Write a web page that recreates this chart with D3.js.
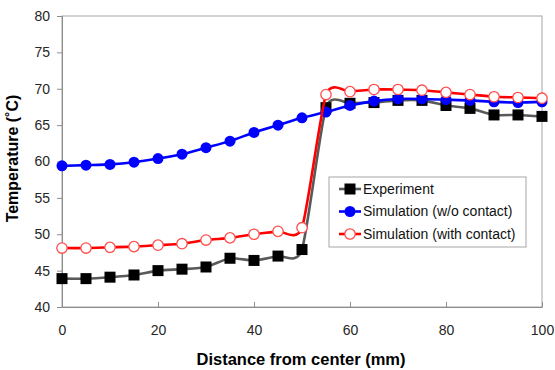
<!DOCTYPE html>
<html>
<head>
<meta charset="utf-8">
<script src="https://cdn.jsdelivr.net/npm/d3@7"></script>
<style>
  body { margin: 0; background: #fff; }
  text { font-family: "Liberation Sans", Arial, sans-serif; }
</style>
</head>
<body>
<div id="chart"></div>
<script>
const distance = [0, 5, 10, 15, 20, 25, 30, 35, 40, 45, 50, 55, 60, 65, 70, 75, 80, 85, 90, 95, 100]
const experiment = [43.9, 43.9, 44.1, 44.4, 45.0, 45.2, 45.5, 46.7, 46.4, 47.0, 47.9, 67.4, 68.0, 68.1, 68.4, 68.4, 67.7, 67.3, 66.4, 66.4, 66.2]
const simNoContact = [59.4, 59.5, 59.6, 59.9, 60.4, 61.0, 61.9, 62.8, 64.0, 65.0, 66.0, 66.8, 67.7, 68.3, 68.6, 68.6, 68.5, 68.4, 68.2, 68.1, 68.2]
const simContact = [48.1, 48.1, 48.2, 48.3, 48.5, 48.7, 49.2, 49.5, 50.0, 50.4, 50.9, 69.2, 69.6, 69.9, 69.9, 69.8, 69.5, 69.2, 68.9, 68.8, 68.7]
const xTicks = [0, 20, 40, 60, 80, 100]
const yTicks = [40, 45, 50, 55, 60, 65, 70, 75, 80]
const seriesNames = ['Experiment', 'Simulation (w/o contact)', 'Simulation (with contact)']

const margin = { top: 16, right: 13, bottom: 63, left: 62 };
const width = 555 - margin.left - margin.right;
const height = 370 - margin.top - margin.bottom;

const svg = d3.select('#chart')
  .append('svg')
    .attr('width', 555)
    .attr('height', 370)
  .append('g')
    .attr('transform', `translate(${margin.left},${margin.top})`);

const x = d3.scaleLinear().domain([0, 100]).range([0, width]);
const y = d3.scaleLinear().domain([40, 80]).range([height, 0]);

// plot border
svg.append('rect')
    .attr('width', width)
    .attr('height', height)
    .attr('fill', 'none')
    .attr('stroke', '#a6a6a6')
    .attr('stroke-width', 1);

// axes
const yAxis = svg.append('g')
    .call(d3.axisLeft(y).tickValues(yTicks).tickSize(5).tickPadding(7));
const xAxis = svg.append('g')
    .attr('transform', `translate(0,${height})`)
    .call(d3.axisBottom(x).tickValues(xTicks).tickSizeInner(-5).tickSizeOuter(0).tickPadding(18));

[xAxis, yAxis].forEach(ax => {
  ax.select('.domain').attr('stroke', '#8c8c8c');
  ax.selectAll('.tick line').attr('stroke', '#8c8c8c');
  ax.selectAll('.tick text')
    .attr('font-size', 14)
    .attr('fill', '#262626')
    .attr('font-family', '"Liberation Sans", Arial, sans-serif');
});

// axis titles
svg.append('text')
    .attr('x', width / 2 - 1)
    .attr('y', height + 58)
    .attr('text-anchor', 'middle')
    .attr('font-size', 16.5)
    .attr('font-weight', 'bold')
    .text('Distance from center (mm)');

svg.append('text')
    .attr('transform', `translate(${-44},${height / 2 - 3}) rotate(-90)`)
    .attr('text-anchor', 'middle')
    .attr('font-size', 16)
    .attr('font-weight', 'bold')
    .text('Temperature (˚C)');

const series = [
  { name: seriesNames[0], values: experiment, line: '#595959', marker: 'square', fill: '#000', stroke: '#000' },
  { name: seriesNames[1], values: simNoContact, line: '#0000ff', marker: 'dot', fill: '#0000ff', stroke: '#0000ff' },
  { name: seriesNames[2], values: simContact, line: '#ff0000', marker: 'open', fill: '#fff', stroke: '#ff4b4b' }
];

// Excel-like smoothing, a bit tighter than plain Catmull-Rom
const line = d3.line()
    .x(d => x(d[0]))
    .y(d => y(d[1]))
    .curve(d3.curveCardinal.tension(0.35));

const drawMarker = (g, s, cx, cy) => {
  if (s.marker === 'square') {
    g.append('rect')
      .attr('x', cx - 5.5).attr('y', cy - 5.5)
      .attr('width', 11).attr('height', 11)
      .attr('fill', s.fill);
  } else if (s.marker === 'dot') {
    g.append('circle')
      .attr('cx', cx).attr('cy', cy).attr('r', 5.5)
      .attr('fill', s.fill);
  } else {
    g.append('circle')
      .attr('cx', cx).attr('cy', cy).attr('r', 5.2)
      .attr('fill', s.fill)
      .attr('stroke', s.stroke)
      .attr('stroke-width', 1.3);
  }
}

series.forEach(s => {
  const pts = distance.map((d, i) => [d, s.values[i]]);
  const g = svg.append('g');
  g.append('path')
    .datum(pts)
    .attr('fill', 'none')
    .attr('stroke', s.line)
    .attr('stroke-width', 2.6)
    .attr('d', line);
  pts.forEach(p => drawMarker(g, s, x(p[0]), y(p[1])));
});

// legend
const legend = svg.append('g')
    .attr('transform', `translate(${329 - margin.left},${177 - margin.top})`);
legend.append('rect')
    .attr('width', 197)
    .attr('height', 70)
    .attr('fill', '#fff')
    .attr('stroke', '#a6a6a6');

series.forEach((s, i) => {
  const row = legend.append('g').attr('transform', `translate(0,${12 + i * 22.5})`);
  row.append('line')
    .attr('x1', 10).attr('x2', 32)
    .attr('stroke', s.line)
    .attr('stroke-width', 2.6);
  drawMarker(row, s, 21, 0);
  row.append('text')
    .attr('x', 34)
    .attr('y', 0)
    .attr('dy', '0.35em')
    .attr('font-size', 14)
    .attr('fill', '#111')
    .text(s.name);
});
</script>
</body>
</html>
